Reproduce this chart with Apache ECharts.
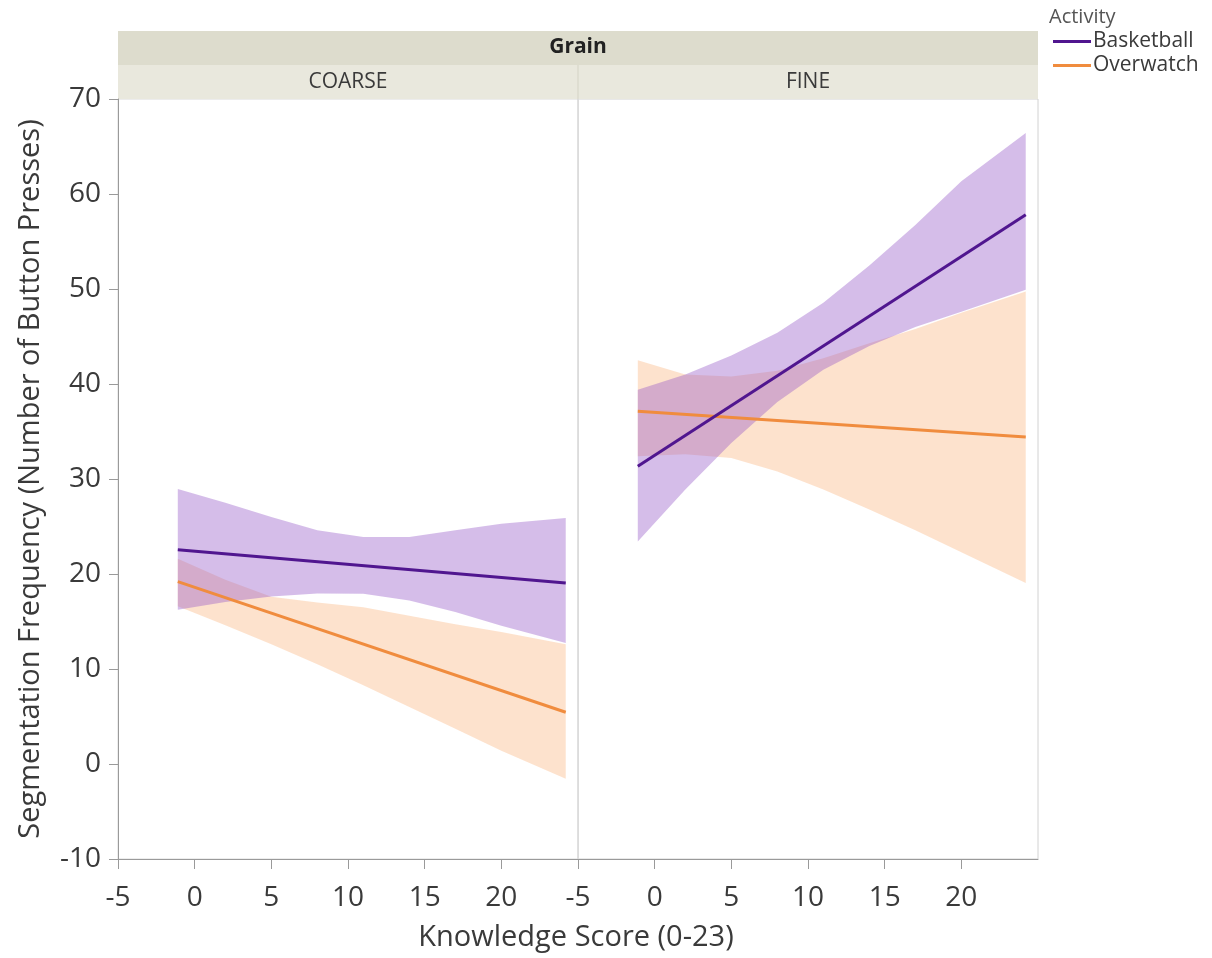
<!DOCTYPE html>
<html>
<head>
<meta charset="utf-8">
<script src="https://cdn.jsdelivr.net/npm/echarts@6/dist/echarts.min.js"></script>
<style>
html,body{margin:0;padding:0;background:#fff;}
#chart{width:1212px;height:958px;}
</style>
</head>
<body>
<div id="chart"></div>
<script>
// ---- data ----
const panels = ['COARSE', 'FINE'];
const activities = ['Basketball', 'Overwatch'];
const xTickLabels = [-5, 0, 5, 10, 15, 20];

// fitted line end points (Knowledge Score range of the fit)
const fitX = [-1.1, 24.2];
const coarseBasketballLine = [22.56, 19.05];
const coarseOverwatchLine = [19.2, 5.45];
const fineBasketballLine = [31.33, 57.82];
const fineOverwatchLine = [37.12, 34.42];

// confidence band edges
const bandX = [-1.1, 2, 5, 8, 11, 14, 17, 20, 24.2];
const coarseBasketballUpper = [28.95, 27.5, 26.0, 24.6, 23.9, 23.9, 24.6, 25.3, 25.9];
const coarseBasketballLower = [16.24, 17.05, 17.64, 17.96, 17.93, 17.22, 16.0, 14.56, 12.74];
const coarseOverwatchUpper = [21.6, 19.4, 17.6, 17.0, 16.5, 15.6, 14.7, 13.9, 12.6];
const coarseOverwatchLower = [16.6, 14.6, 12.6, 10.5, 8.3, 6.0, 3.7, 1.4, -1.55];
const fineBasketballUpper = [39.4, 41.0, 43.0, 45.4, 48.56, 52.47, 56.75, 61.35, 66.42];
const fineBasketballLower = [23.43, 28.9, 33.8, 38.1, 41.5, 44.0, 46.0, 47.6, 49.93];
const fineOverwatchUpper = [42.5, 41.0, 40.8, 41.4, 42.7, 44.3, 45.8, 47.5, 49.75];
const fineOverwatchLower = [32.4, 32.6, 32.2, 30.8, 28.9, 26.8, 24.6, 22.3, 19.05];

// ---- styling ----
const FONT = 'Open Sans';
const TXT = '#3a3a3a';
const purpleLine = '#50168f';
const orangeLine = '#f08c3e';
const purpleBand = 'rgba(150,90,200,0.40)';
const orangeBand = 'rgba(250,160,90,0.30)';

const chart = echarts.init(document.getElementById('chart'), null, {renderer: 'canvas'});

function band(idx, upper, lower, fill, z) {
  return {
    type: 'custom', xAxisIndex: idx, yAxisIndex: idx, silent: true, z: z,
    data: bandX.map((x, i) => [x, lower[i], upper[i]]),
    encode: {x: 0, y: [1, 2]},
    renderItem: function (params, api) {
      if (params.dataIndex !== 0) return {type: 'group', children: []};
      const pts = [];
      for (let i = 0; i < bandX.length; i++) pts.push(api.coord([bandX[i], upper[i]]));
      for (let i = bandX.length - 1; i >= 0; i--) pts.push(api.coord([bandX[i], lower[i]]));
      return {type: 'polygon', shape: {points: pts}, style: {fill: fill}};
    }
  };
}
function fit(idx, name, ys, color, z) {
  return {
    type: 'line', name: name, xAxisIndex: idx, yAxisIndex: idx, z: z,
    data: fitX.map((x, i) => [x, ys[i]]),
    showSymbol: false, symbol: 'none', color: color,
    lineStyle: {color: color, width: 3}
  };
}

const xAxisBase = {
  type: 'value', min: -5, max: 25, interval: 5,
  splitLine: {show: false},
  axisLine: {show: true, onZero: false, lineStyle: {color: '#9a9a9a', width: 1}},
  axisTick: {show: true, length: 10, lineStyle: {color: '#9a9a9a'}, customValues: xTickLabels},
  axisLabel: {show: true, margin: 25, fontFamily: FONT, fontSize: 28, color: TXT, customValues: xTickLabels}
};

const option = {
  animation: false,
  backgroundColor: '#ffffff',
  grid: [
    {left: 118, top: 99, width: 460, height: 760, show: true, borderColor: '#dadada', borderWidth: 1},
    {left: 578, top: 99, width: 460, height: 760, show: true, borderColor: '#d2d2d2', borderWidth: 1}
  ],
  xAxis: [
    Object.assign({gridIndex: 0}, xAxisBase),
    Object.assign({gridIndex: 1}, xAxisBase)
  ],
  yAxis: [
    {
      type: 'value', gridIndex: 0, min: -10, max: 70, interval: 10,
      splitLine: {show: false},
      axisLine: {show: true, onZero: false, lineStyle: {color: '#9a9a9a'}},
      axisTick: {show: true, length: 9, lineStyle: {color: '#9a9a9a'}},
      axisLabel: {margin: 17, fontFamily: FONT, fontSize: 28, color: TXT}
    },
    {
      type: 'value', gridIndex: 1, min: -10, max: 70, interval: 10,
      splitLine: {show: false},
      axisLine: {show: true, onZero: false, lineStyle: {color: '#dcdcdc'}},
      axisTick: {show: false}, axisLabel: {show: false}
    }
  ],
  legend: {
    data: activities.map(a => ({name: a, icon: 'rect'})),
    orient: 'vertical', left: 1048, top: 26, itemWidth: 38, itemHeight: 3, itemGap: 3,
    textStyle: {fontFamily: FONT, fontSize: 21, color: TXT, padding: [0, 0, 0, -3]},
    selectedMode: false
  },
  graphic: [
    {type: 'rect', silent: true, shape: {x: 118, y: 31, width: 920, height: 34}, style: {fill: '#dddccd'}},
    {type: 'rect', silent: true, shape: {x: 118, y: 65, width: 920, height: 34}, style: {fill: '#e9e8dd'}},
    {type: 'line', silent: true, shape: {x1: 578, y1: 65, x2: 578, y2: 99}, style: {stroke: '#d4d3c5', lineWidth: 1}},
    {type: 'text', silent: true, x: 578, y: 47, style: {text: 'Grain', font: 'bold 21px "' + FONT + '"', fill: '#222', align: 'center', verticalAlign: 'middle'}},
    {type: 'text', silent: true, x: 348, y: 82, style: {text: panels[0], font: '21px "' + FONT + '"', fill: TXT, align: 'center', verticalAlign: 'middle'}},
    {type: 'text', silent: true, x: 808, y: 82, style: {text: panels[1], font: '21px "' + FONT + '"', fill: TXT, align: 'center', verticalAlign: 'middle'}},
    {type: 'text', silent: true, x: 1049, y: 17, style: {text: 'Activity', font: '20px "' + FONT + '"', fill: '#555', align: 'left', verticalAlign: 'middle'}},
    {type: 'text', silent: true, x: 576, y: 938, style: {text: 'Knowledge Score (0-23)', font: '29px "' + FONT + '"', fill: TXT, align: 'center', verticalAlign: 'middle'}},
    {type: 'text', silent: true, x: 31, y: 479, rotation: Math.PI / 2, style: {text: 'Segmentation Frequency (Number of Button Presses)', font: '29px "' + FONT + '"', fill: TXT, align: 'center', verticalAlign: 'middle'}}
  ],
  series: [
    band(0, coarseOverwatchUpper, coarseOverwatchLower, orangeBand, 1),
    band(0, coarseBasketballUpper, coarseBasketballLower, purpleBand, 2),
    band(1, fineOverwatchUpper, fineOverwatchLower, orangeBand, 1),
    band(1, fineBasketballUpper, fineBasketballLower, purpleBand, 2),
    fit(0, 'Basketball', coarseBasketballLine, purpleLine, 4),
    fit(0, 'Overwatch', coarseOverwatchLine, orangeLine, 3),
    fit(1, 'Basketball', fineBasketballLine, purpleLine, 4),
    fit(1, 'Overwatch', fineOverwatchLine, orangeLine, 3)
  ]
};
chart.setOption(option);
</script>
</body>
</html>
